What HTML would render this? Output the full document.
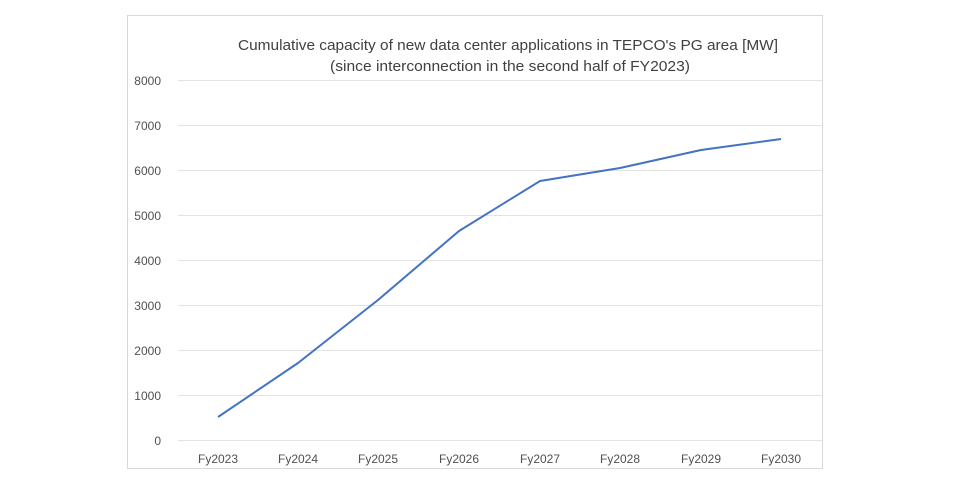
<!DOCTYPE html>
<html><head><style>body{margin:0;background:#fff}</style></head><body>
<svg width="959" height="483" xmlns="http://www.w3.org/2000/svg" font-family="Liberation Sans, sans-serif">
<rect x="127.5" y="15.5" width="695" height="453" fill="#fff" stroke="#d9d9d9"/>
<text x="238" y="50" font-size="14.5" fill="#404040" textLength="540" lengthAdjust="spacingAndGlyphs">Cumulative capacity of new data center applications in TEPCO's PG area [MW]</text>
<text x="330" y="71" font-size="14.5" fill="#404040" textLength="360" lengthAdjust="spacingAndGlyphs">(since interconnection in the second half of FY2023)</text>
<g stroke="#e3e3e3" stroke-width="1">
<line x1="178" x2="822" y1="80.5" y2="80.5"/><line x1="178" x2="822" y1="125.5" y2="125.5"/>
<line x1="178" x2="822" y1="170.5" y2="170.5"/><line x1="178" x2="822" y1="215.5" y2="215.5"/>
<line x1="178" x2="822" y1="260.5" y2="260.5"/><line x1="178" x2="822" y1="305.5" y2="305.5"/>
<line x1="178" x2="822" y1="350.5" y2="350.5"/><line x1="178" x2="822" y1="395.5" y2="395.5"/>
<line x1="178" x2="822" y1="440.5" y2="440.5"/>
</g>
<g font-size="12" fill="#505050" text-anchor="end">
<text x="161" y="85">8000</text><text x="161" y="130">7000</text><text x="161" y="175">6000</text>
<text x="161" y="220">5000</text><text x="161" y="265">4000</text><text x="161" y="310">3000</text>
<text x="161" y="355">2000</text><text x="161" y="400">1000</text><text x="161" y="445">0</text>
</g>
<g font-size="12" fill="#505050" text-anchor="middle">
<text x="218" y="463">Fy2023</text><text x="298" y="463">Fy2024</text><text x="378" y="463">Fy2025</text>
<text x="459" y="463">Fy2026</text><text x="540" y="463">Fy2027</text><text x="620" y="463">Fy2028</text>
<text x="701" y="463">Fy2029</text><text x="781" y="463">Fy2030</text>
</g>
<polyline fill="none" stroke="#4472c4" stroke-width="2" stroke-linejoin="round" points="218,417 298,363 378,300 459,231 540,181 620,168 701,150 781,139"/>
</svg>
</body></html>
